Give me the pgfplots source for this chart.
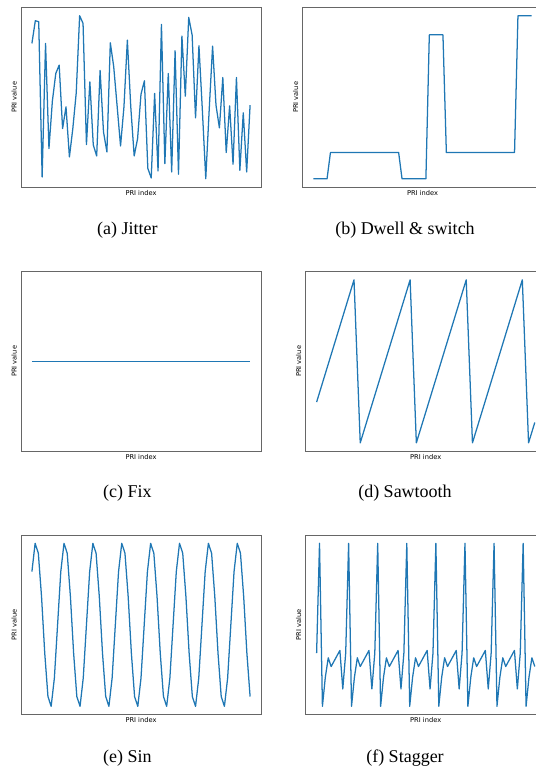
\documentclass[border=0pt]{standalone}
\usepackage{fontspec}
\setmainfont{Liberation Serif}
\newfontfamily\dejavu{DejaVu Sans}
\usepackage{pgfplots}
\pgfplotsset{compat=1.18}
\definecolor{c0}{HTML}{1F77B4}
\newcommand{\labfont}{\dejavu\fontsize{5}{6}\selectfont}
\newcommand{\capfont}{\fontsize{13.5}{15}\selectfont}
\pgfplotsset{panel/.style={
  anchor=south west, scale only axis, width=180pt, height=134.475pt,
  xtick=\empty, ytick=\empty,
  axis line style={black!60, line width=0.6pt},
  clip=false,
  xlabel={PRI index}, ylabel={PRI value},
  label style={font=\labfont},
  xlabel style={at={(axis description cs:0.5,-0.032)}, anchor=center},
  ylabel style={at={(axis description cs:-0.029,0.5)}, anchor=center},
}, ln/.style={draw=c0, color=c0, line width=0.95pt, mark=none, line join=round}}
\begin{document}
\begin{tikzpicture}
\useasboundingbox (0,0) rectangle (402pt,576.75pt);
\clip (0,0) rectangle (402pt,576.75pt);

% (a) Jitter
\begin{axis}[panel, at={(15.75pt,436.5pt)}, xmin=-3.2, xmax=67.2, ymin=0, ymax=537]
\addplot[ln] table[x expr=\coordindex, y index=0, header=false] {
430
498
495
30
430
115
257
340
365
175
240
90
175
282
513
490
127
315
126
93
349
165
105
432
360
242
123
240
440
240
93
145
278
318
56
27
280
48
487
70
340
45
408
38
452
272
508
455
207
423
230
25
230
422
245
177
328
103
243
68
328
50
222
45
245
};
\end{axis}

% (b) Dwell & switch
\begin{axis}[panel, at={(226.875pt,436.5pt)}, xmin=-3.2, xmax=67.2, ymin=-24.45, ymax=513.45]
\addplot[ln] coordinates {(0,0) (4,0) (5,79) (25,79) (26,0) (33,0) (34,432) (38,432) (39,79) (59,79) (60,489) (64,489)};
\end{axis}

% (c) Fix
\begin{axis}[panel, at={(15.75pt,238.5pt)}, xmin=-3.2, xmax=67.2, ymin=0, ymax=2]
\addplot[ln] coordinates {(0,1) (64,1)};
\end{axis}

% (d) Sawtooth
\begin{axis}[panel, at={(229.275pt,238.5pt)}, xmin=-1.75, xmax=36.75, ymin=-0.4, ymax=8.4]
\addplot[ln] table[x expr=\coordindex, y index=0, header=false] {
2
3
4
5
6
7
8
0
1
2
3
4
5
6
7
8
0
1
2
3
4
5
6
7
8
0
1
2
3
4
5
6
7
8
0
1
};
\end{axis}

% (e) Sin
\begin{axis}[panel, at={(15.75pt,40.875pt)}, xmin=-3.4, xmax=71.4, ymin=-1.0833, ymax=1.0833]
\addplot[ln] table[x expr=\coordindex, y index=0, header=false] {
0.643
0.985
0.866
0.342
-0.342
-0.866
-0.985
-0.643
0.000
0.643
0.985
0.866
0.342
-0.342
-0.866
-0.985
-0.643
0.000
0.643
0.985
0.866
0.342
-0.342
-0.866
-0.985
-0.643
0.000
0.643
0.985
0.866
0.342
-0.342
-0.866
-0.985
-0.643
0.000
0.643
0.985
0.866
0.342
-0.342
-0.866
-0.985
-0.643
0.000
0.643
0.985
0.866
0.342
-0.342
-0.866
-0.985
-0.643
0.000
0.643
0.985
0.866
0.342
-0.342
-0.866
-0.985
-0.643
0.000
0.643
0.985
0.866
0.342
-0.342
-0.866
};
\end{axis}

% (f) Stagger
\begin{axis}[panel, at={(229.275pt,40.875pt)}, xmin=-3.75, xmax=78.75, ymin=-24.35, ymax=511.35]
\addplot[ln] table[x expr=\coordindex, y index=0, header=false] {
159
487
0
87
145
119
135
151
167
52
159
487
0
87
145
119
135
151
167
52
159
487
0
87
145
119
135
151
167
52
159
487
0
87
145
119
135
151
167
52
159
487
0
87
145
119
135
151
167
52
159
487
0
87
145
119
135
151
167
52
159
487
0
87
145
119
135
151
167
52
159
487
0
87
145
119
};
\end{axis}

% captions
\node[anchor=base, font=\capfont] at (95.6pt,400.5pt) {(a) Jitter};
\node[anchor=base, font=\capfont] at (303.75pt,400.5pt) {(b) Dwell \& switch};
\node[anchor=base, font=\capfont] at (95.6pt,203.25pt) {(c) Fix};
\node[anchor=base, font=\capfont] at (303.75pt,203.25pt) {(d) Sawtooth};
\node[anchor=base, font=\capfont] at (95.6pt,5.25pt) {(e) Sin};
\node[anchor=base, font=\capfont] at (303.75pt,5.25pt) {(f) Stagger};
\end{tikzpicture}
\end{document}
